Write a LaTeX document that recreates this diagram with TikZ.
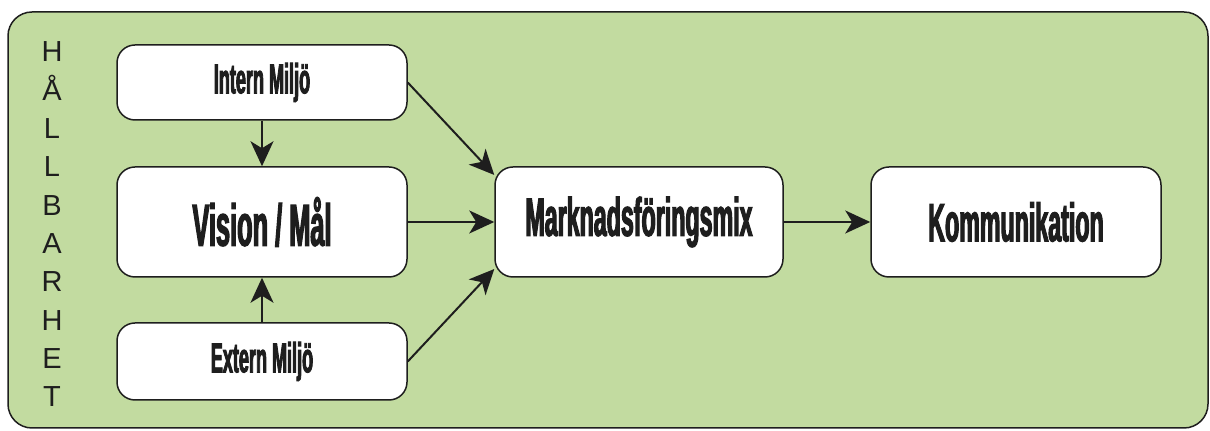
\documentclass[tikz,border=0pt]{standalone}
\usepackage{fontspec}
\setmainfont{Liberation Sans}
\newfontfamily\BoxFont[FakeStretch=0.43,FakeBold=2]{Liberation Sans}
\usetikzlibrary{arrows.meta}
\definecolor{BackClr}{RGB}{194,219,160}
\definecolor{LineClr}{RGB}{30,30,30}

\tikzset{
  BoxStyle/.style={draw=LineClr,fill=white,rounded corners=9pt,line width=0.75pt,
    minimum width=145pt,inner sep=0pt,text=LineClr},
  SmallBox/.style={BoxStyle,font=\BoxFont\bfseries\fontsize{21}{21}\selectfont},
  BigBox/.style={BoxStyle,minimum height=55pt,font=\BoxFont\bfseries\fontsize{27}{27}\selectfont},
  ArrowStyle/.style={draw=LineClr,line width=1pt,-{Stealth[length=12.5pt,width=11.5pt,inset=3.5pt]}}
}

\begin{document}
\begin{tikzpicture}[x=0.5pt,y=-0.5pt]
\useasboundingbox (0,0) rectangle (1210,431);
\draw[fill=BackClr,draw=LineClr,line width=0.75pt,rounded corners=12pt] (8,12) rectangle (1208,428);

% vertical title
\foreach \ch [count=\i from 0] in {H,Å,L,L,B,A,R,H,E,T}
  \node[anchor=base,inner sep=0pt,text=LineClr,font=\fontsize{14.5}{14.5}\selectfont] (t\i) at (52,{62+38.33*\i}) {\ch};

% boxes
\node[SmallBox,minimum height=37.5pt] (intern) at (262,82.5) {Intern Miljö};
\node[BigBox,font=\BoxFont\bfseries\fontsize{29.5}{29.5}\selectfont] (vision) at (262,222) {Vision / Mål};
\node[SmallBox,minimum height=38.5pt] (extern) at (262,361.5) {Extern Miljö};
\node[BigBox,minimum width=144pt] (mix) at (639,222) {Marknadsföringsmix};
\node[BigBox] (komm) at (1016,222) {Kommunikation};

% arrows
\draw[ArrowStyle] (intern) -- (vision);
\draw[ArrowStyle] (extern) -- (vision);
\draw[ArrowStyle] (vision) -- (mix);
\draw[ArrowStyle] (intern.east) -- (mix.162);
\draw[ArrowStyle] (extern.east) -- (mix.198);
\draw[ArrowStyle] (mix) -- (komm);

\end{tikzpicture}
\end{document}
